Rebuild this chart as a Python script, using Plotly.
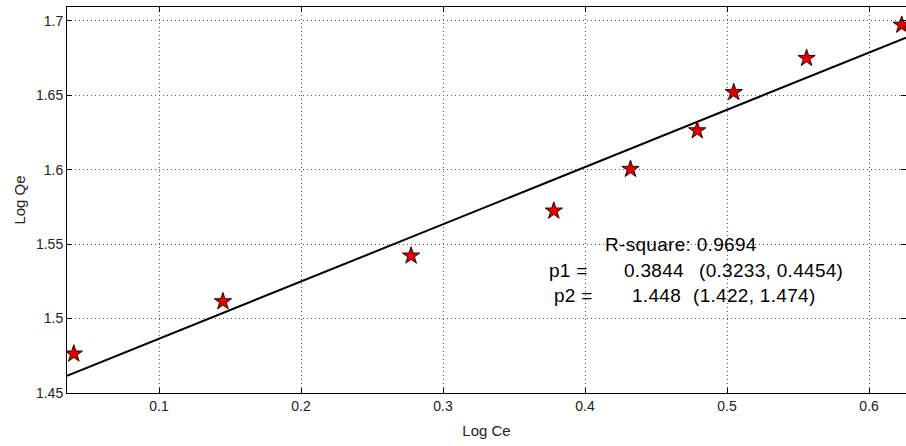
import plotly.graph_objects as go

# Data
log_ce = [0.040, 0.145, 0.2775, 0.378, 0.432, 0.479, 0.5047, 0.556, 0.623]
log_qe = [1.4763, 1.5114, 1.5421, 1.5723, 1.6003, 1.6262, 1.6519, 1.6748, 1.6971]

# Fit parameters (shown in the annotation)
p1 = 0.3844
p2 = 1.448
r_square = 0.9694
p1_ci = (0.3233, 0.4454)
p2_ci = (1.422, 1.474)

x_range = [0.0352, 0.626]
y_range = [1.45, 1.7092]

x_ticks = [0.1, 0.2, 0.3, 0.4, 0.5, 0.6]
x_tick_labels = ["0.1", "0.2", "0.3", "0.4", "0.5", "0.6"]
y_ticks = [1.45, 1.5, 1.55, 1.6, 1.65, 1.7]
y_tick_labels = ["1.45", "1.5", "1.55", "1.6", "1.65", "1.7"]

fit_x = x_range
fit_y = [p1 * v + p2 for v in fit_x]

FONT = "Liberation Sans, Arial, sans-serif"

fig = go.Figure()
fig.add_trace(go.Scatter(
    x=fit_x, y=fit_y, mode="lines",
    line=dict(color="black", width=2), showlegend=False,
))
fig.add_trace(go.Scatter(
    x=log_ce, y=log_qe, mode="markers",
    marker=dict(symbol="star", size=13, color="#e00000",
                line=dict(color="#300000", width=1)),
    showlegend=False,
))

font_txt = dict(family=FONT, size=19, color="black")


def sp(t):
    return f'<span style="letter-spacing:0.3px">{t}</span>'


ann = [
    (0.4127, 1.5495, "left", f"R-square: {r_square}"),
    (0.3732, 1.5320, "left", "p1 ="),
    (0.4260, 1.5320, "left", f"{p1}"),
    (0.5831, 1.5320, "right", f"({p1_ci[0]}, {p1_ci[1]})"),
    (0.3768, 1.5152, "left", "p2 ="),
    (0.4317, 1.5152, "left", f"{p2}"),
    (0.5641, 1.5152, "right", f"({p2_ci[0]}, {p2_ci[1]})"),
]
for ax_, ay_, anc, t in ann:
    fig.add_annotation(x=ax_, y=ay_, xref="x", yref="y", text=sp(t),
                       showarrow=False, xanchor=anc, yanchor="middle",
                       font=font_txt)

axis_common = dict(
    showline=True, linecolor="black", linewidth=1, mirror="ticks",
    ticks="inside", ticklen=5, tickcolor="black",
    showgrid=True, gridcolor="#555555", griddash="1px,3px", gridwidth=1,
    zeroline=False,
    tickfont=dict(family=FONT, size=14, color="#222222"),
)

fig.update_xaxes(range=x_range, tickvals=x_ticks, ticktext=x_tick_labels,
                 title=dict(text="Log Ce", standoff=12,
                            font=dict(family=FONT, size=15, color="#222222")),
                 **axis_common)
fig.update_yaxes(range=y_range, tickvals=y_ticks, ticktext=y_tick_labels,
                 title=dict(text="Log Qe", standoff=6,
                            font=dict(family=FONT, size=15, color="#222222")),
                 **axis_common)

fig.update_layout(
    width=906, height=446,
    margin=dict(l=67, r=0, t=7, b=53),
    paper_bgcolor="white", plot_bgcolor="white",
)

fig.write_html("out.html")
